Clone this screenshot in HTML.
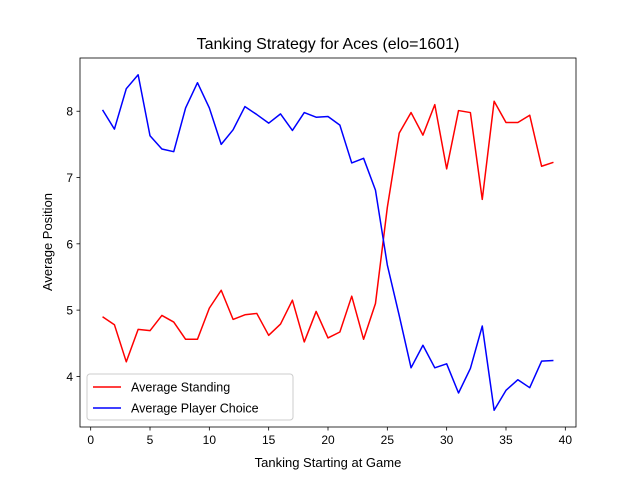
<!DOCTYPE html>
<html><head><meta charset="utf-8"><style>
body{margin:0;background:#fff}
svg{display:block;font-family:"Liberation Sans","DejaVu Sans",sans-serif}
</style></head><body>
<svg id="chart" width="640" height="480" viewBox="0 0 640 480">
<rect width="640" height="480" fill="#fff"/>
<text x="328" y="49" font-size="16" text-anchor="middle">Tanking Strategy for Aces (elo=1601)</text>
<g id="plot"></g>
<text x="328" y="467" font-size="13" text-anchor="middle">Tanking Starting at Game</text>
<text transform="translate(52,242) rotate(-90)" font-size="13" text-anchor="middle">Average Position</text>
</svg>
<script>
const games=[1,2,3,4,5,6,7,8,9,10,11,12,13,14,15,16,17,18,19,20,21,22,23,24,25,26,27,28,29,30,31,32,33,34,35,36,37,38,39];
const standing=[4.90,4.78,4.22,4.71,4.69,4.92,4.82,4.56,4.56,5.03,5.30,4.86,4.93,4.95,4.62,4.79,5.15,4.52,4.98,4.58,4.67,5.21,4.56,5.10,6.55,7.67,7.98,7.64,8.10,7.13,8.01,7.98,6.67,8.15,7.83,7.83,7.94,7.17,7.23];
const playerChoice=[8.02,7.73,8.34,8.55,7.63,7.43,7.39,8.05,8.43,8.05,7.50,7.72,8.07,7.95,7.82,7.96,7.71,7.98,7.91,7.92,7.79,7.22,7.29,6.81,5.68,4.92,4.13,4.47,4.13,4.19,3.75,4.12,4.76,3.49,3.79,3.95,3.83,4.23,4.24];
const xTicks=[0,5,10,15,20,25,30,35,40];
const yTicks=[4,5,6,7,8];
const L=80,R=576,T=58,B=427;
const ns="http://www.w3.org/2000/svg";
const g=document.getElementById('plot');
const xmin=Math.min(...games),xmax=Math.max(...games),xm=(xmax-xmin)*0.05;
const all=standing.concat(playerChoice);
const ymin=Math.min(...all),ymax=Math.max(...all),ym=(ymax-ymin)*0.05;
const sx=v=>L+(v-(xmin-xm))/((xmax+xm)-(xmin-xm))*(R-L);
const sy=v=>B-(v-(ymin-ym))/((ymax+ym)-(ymin-ym))*(B-T);
function el(t,a){const e=document.createElementNS(ns,t);for(const k in a)e.setAttribute(k,a[k]);g.appendChild(e);return e;}
xTicks.forEach(t=>{const x=sx(t);
const l=el('line',{x1:x,x2:x,y1:B,y2:B+3.5,stroke:'#000','stroke-width':0.8});


const tx=el('text',{x:x,y:B+17,'font-size':'12','text-anchor':'middle'});tx.textContent=t;

});
yTicks.forEach(t=>{const y=sy(t);
const l=el('line',{x1:L-3.5,x2:L,y1:y,y2:y,stroke:'#000','stroke-width':0.8});


const tx=el('text',{x:L-7,y:y+4.5,'font-size':'12','text-anchor':'end'});tx.textContent=t;

});
function line(vals,color,name){
const p=el('polyline',{points:vals.map((v,i)=>sx(games[i])+','+sy(v)).join(' '),fill:'none',stroke:color,'stroke-width':1.5,'stroke-linejoin':'round'});

}
line(standing,'#ff0000','average-standing-line');
line(playerChoice,'#0000ff','average-player-choice-line');
const f=el('rect',{x:L,y:T,width:R-L,height:B-T,fill:'none',stroke:'#000','stroke-width':0.8});


const lg=el('rect',{x:87,y:374,width:206,height:46,rx:3,fill:'#fff','fill-opacity':0.8,stroke:'#ccc','stroke-width':1});


[['Average Standing','#ff0000',387],['Average Player Choice','#0000ff',408]].forEach(([n,c,y])=>{
const l=el('line',{x1:93,x2:121,y1:y,y2:y,stroke:c,'stroke-width':1.5});


const t=el('text',{x:131,y:y+4.5,'font-size':'12.5'});t.textContent=n;

});
</script>
</body></html>
